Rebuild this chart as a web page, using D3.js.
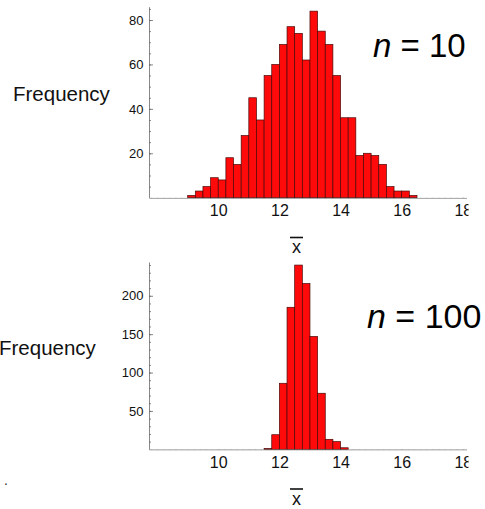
<!DOCTYPE html>
<html>
<head>
<meta charset="utf-8">
<script src="https://cdn.jsdelivr.net/npm/d3@7"></script>
<style>
  body { margin: 0; background: #fff; }
  svg { display: block; }
  text { font-family: "Liberation Sans", Arial, Helvetica, sans-serif; }
</style>
</head>
<body>
<svg id="chart" width="485" height="509"></svg>
<script>
// Sampling distribution of the sample mean, 1000 samples each, bins of width 0.25
const binWidth = 0.25;

// n = 10
const binStart10 = 9.0;
const counts10 = [1, 3, 5, 9, 8, 18, 15, 28, 45, 35, 55, 60, 69, 77, 74,
                  62, 84, 75, 69, 55, 36, 36, 19, 20, 19, 15, 5, 3, 3, 1];

// n = 100
const binStart100 = 11.5;
const counts100 = [1, 19, 86, 185, 240, 216, 147, 73, 13, 10, 2];

const xTicks = [10, 12, 14, 16, 18];
const yTicks10 = [20, 40, 60, 80];
const yTicks100 = [50, 100, 150, 200];
const sampleLabels = ["10", "100"];
const yAxisTitle = "Frequency";

const svg = d3.select("#chart");
const axisColor = "#6a6a6a";

svg.append("defs").append("clipPath").attr("id", "axisClip")
  .append("rect").attr("x", 0).attr("y", 0).attr("width", 468.5).attr("height", 509);

const panels = [
  { counts: counts10, start: binStart10, yTicks: yTicks10, yMax: 86, yMinor: 5,
    base: 197.7, top: 6.7, label: sampleLabels[0], labelX: 373, labelY: 56.7, labelSize: 33,
    titleX: 13, titleY: 100.5, barTitleY: 237.5 },
  { counts: counts100, start: binStart100, yTicks: yTicks100, yMax: 244, yMinor: 10,
    base: 449.3, top: 262, label: sampleLabels[1], labelX: 367, labelY: 327.5, labelSize: 34,
    titleX: -1, titleY: 355, barTitleY: 489 }
];

panels.forEach(p => {
  const x = d3.scaleLinear().domain([7.735, 18.12]).range([149, 466.5]);
  const y = d3.scaleLinear().domain([0, p.yMax]).range([p.base, p.top]);
  const g = svg.append("g");

  // bars
  g.selectAll("rect.bar")
    .data(p.counts.map((c, i) => ({ x0: p.start + i * binWidth, c })).filter(d => d.c > 0))
    .join("rect")
    .attr("class", "bar")
    .attr("x", d => x(d.x0))
    .attr("width", d => x(d.x0 + binWidth) - x(d.x0))
    .attr("y", d => y(d.c))
    .attr("height", d => y(0) - y(d.c))
    .attr("fill", "#ff0a0a")
    .attr("stroke", "#4a0808")
    .attr("stroke-width", 0.7);

  // x axis: minor ticks, then major ticks with labels
  const xMinor = g.append("g").attr("transform", `translate(0,${p.base})`)
    .attr("clip-path", "url(#axisClip)")
    .call(d3.axisBottom(x).tickValues(d3.range(7.8, 18.01, 0.2)).tickSize(-2).tickSizeOuter(0).tickFormat(""));
  xMinor.select(".domain").remove();

  const xAxis = g.append("g").attr("transform", `translate(0,${p.base})`)
    .attr("clip-path", "url(#axisClip)")
    .call(d3.axisBottom(x).tickValues(xTicks).tickSize(-4).tickSizeOuter(0).tickPadding(7.3));
  xAxis.selectAll("text").attr("font-size", 16).attr("fill", "#111")
    .attr("font-family", '"Liberation Sans", Arial, sans-serif');

  // y axis: minor ticks, then major ticks with labels
  const yMinor = g.append("g").attr("transform", "translate(149,0)")
    .call(d3.axisLeft(y).tickValues(d3.range(p.yMinor, p.yMax, p.yMinor)).tickSize(-2).tickSizeOuter(0).tickFormat(""));
  yMinor.select(".domain").remove();

  const yAxis = g.append("g").attr("transform", "translate(149,0)")
    .call(d3.axisLeft(y).tickValues(p.yTicks).tickSize(-4).tickSizeOuter(0).tickPadding(5.5));
  yAxis.selectAll("text").attr("font-size", 13).attr("fill", "#111")
    .attr("font-family", '"Liberation Sans", Arial, sans-serif');

  g.selectAll(".domain, .tick line").attr("stroke", axisColor).attr("stroke-width", 0.8);

  // axis titles
  g.append("text").attr("x", p.titleX).attr("y", p.titleY)
    .attr("font-size", 20.5).attr("fill", "#111").text(yAxisTitle);

  g.append("line")
    .attr("x1", 290).attr("x2", 303).attr("y1", p.barTitleY).attr("y2", p.barTitleY)
    .attr("stroke", "#111").attr("stroke-width", 1.6);
  g.append("text").attr("x", 296.5).attr("y", p.barTitleY + 15.5)
    .attr("text-anchor", "middle").attr("font-size", 18).attr("fill", "#111").text("x");

  // sample size annotation
  const t = g.append("text").attr("x", p.labelX).attr("y", p.labelY)
    .attr("font-size", p.labelSize).attr("fill", "#000");
  t.append("tspan").attr("font-style", "italic").text("n");
  t.append("tspan").text(" = " + p.label);
});

svg.append("text").attr("x", 4).attr("y", 485).attr("font-size", 14).attr("fill", "#333").text(".");
</script>
</body>
</html>
